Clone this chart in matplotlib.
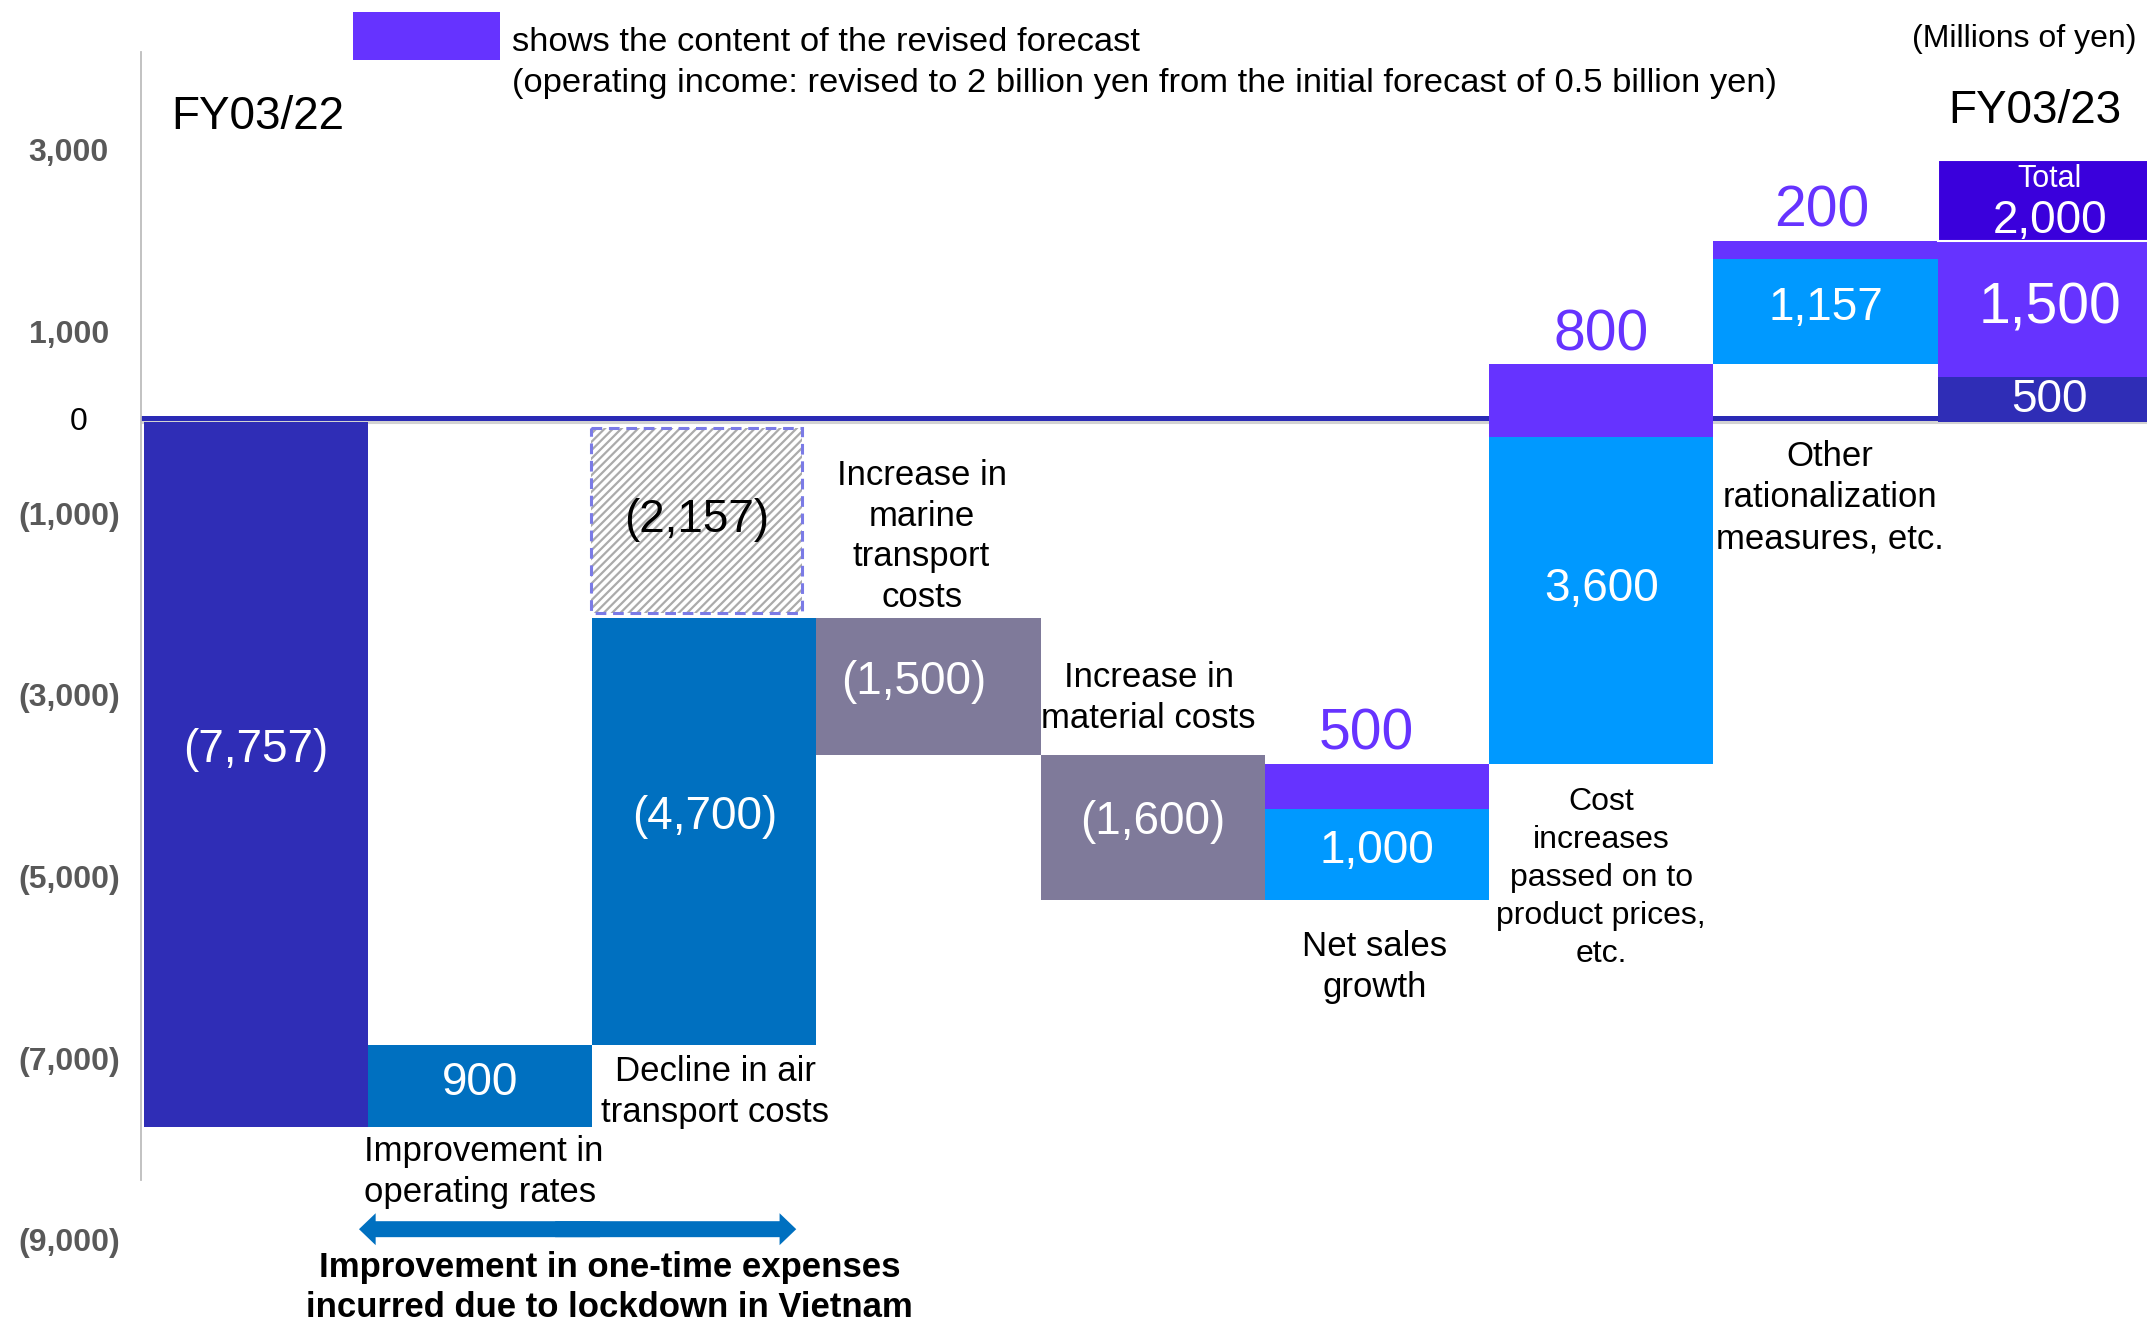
import matplotlib.pyplot as plt
from matplotlib.patches import Rectangle, FancyArrowPatch
from matplotlib.transforms import offset_copy

plt.rcParams['font.family'] = ['Liberation Sans', 'DejaVu Sans']
plt.rcParams['hatch.linewidth'] = 1.6

# Operating income bridge FY03/22 -> FY03/23 (millions of yen)
categories = ['FY03/22',
              'Improvement in\noperating rates',
              'Decline in air\ntransport costs',
              'Increase in\nmarine\ntransport\ncosts',
              'Increase in\nmaterial costs',
              'Net sales\ngrowth',
              'Cost\nincreases\npassed on to\nproduct prices,\netc.',
              'Other\nrationalization\nmeasures, etc.',
              'FY03/23']
start_value = -7757
steps = [900, 4700, -1500, -1600, 1000, 3600, 1157]
# cost items are quoted in brackets whatever their direction
bracketed = [False, True, True, True, False, False, False]
revisions = [0, 0, 0, 0, 500, 800, 200]
end_initial = 500
end_revision = 1500
end_total = 2000
remaining_gap = 2157   # still open after the air transport decline

yticks = [-9000, -7000, -5000, -3000, -1000, 1000, 3000]
ytick_labels = ['(9,000)', '(7,000)', '(5,000)', '(3,000)', '(1,000)',
                '1,000', '3,000']

legend_note = ['shows the content of the revised forecast',
               '(operating income: revised to 2 billion yen from the '
               'initial forecast of 0.5 billion yen)']
unit_note = '(Millions of yen)'
bracket_note = ('Improvement in one-time expenses\n'
                'incurred due to lockdown in Vietnam')

DARK = '#2F2DB6'
IMPROVE = '#0070C0'
COST = '#7F7A9A'
GAIN = '#0099FF'
REVISED = '#6633FF'
TOTAL = '#3A00DC'
step_colors = [IMPROVE, IMPROVE, COST, COST, GAIN, GAIN, GAIN]

# small horizontal nudges (points) for a few number labels
value_dx = {3: -11}
revision_dx = {5: -8, 7: -3}


def fmt(v, brackets=None):
    s = f'{abs(v):,}'
    if brackets is None:
        brackets = v < 0
    return f'({s})' if brackets else s


def value_y(lo, height):
    # labels sit a little above the middle of tall bars
    return lo + abs(height) / 2 + 0.035 * abs(height)


fig = plt.figure(figsize=(21.47, 13.25), dpi=100)
left = 103 / 1568
ax = fig.add_axes([left, 0, 1 - left, 1])
ax.set_xlim(-0.512, 8.434)
ax.set_ylim(-9938, 4651)
for s in ax.spines.values():
    s.set_visible(False)
ax.set_xticks([])

# y axis: ticks and a short grey spine
ax.set_yticks(yticks, ytick_labels)
ax.tick_params(axis='y', length=0, pad=52)
for lab in ax.get_yticklabels():
    lab.set_ha('center')
    lab.set_fontsize(23)
    lab.set_fontweight('bold')
    lab.set_color('#595959')
ax.annotate('0', (0, 0), xycoords=('axes fraction', 'data'),
            xytext=(-45, 0), textcoords='offset points', ha='center',
            va='center', fontsize=23, color='black')
ax.plot([-0.512, -0.512], [-8340, 4080], color='#BDBDBD', lw=1.3,
        clip_on=False, zorder=1)

# zero line: grey underneath, blue on top
ax.plot([-0.512, 8.434], [0, 0], color='#D2D2D2', lw=2.2, zorder=0.5)
ax.plot([-0.512, 8.434], [0, 0], color='#2A2AB5', lw=3.6, zorder=0.6,
        transform=offset_copy(ax.transData, fig=fig, y=2.9, units='points'))

val_kw = dict(ha='center', va='center', color='white', fontsize=33,
              textcoords='offset points', zorder=5)
rev_kw = dict(ha='center', va='baseline', color=REVISED, fontsize=41,
              textcoords='offset points', zorder=5)

# starting bar
ax.bar(0, start_value, width=1, color=DARK, zorder=2)
ax.annotate(fmt(start_value), (0, value_y(start_value, start_value)),
            xytext=(0, 0), **val_kw)

running = start_value
tops, bottoms = [start_value], [start_value]
for i, (d, r) in enumerate(zip(steps, revisions), start=1):
    ax.bar(i, d, bottom=running, width=1, color=step_colors[i - 1], zorder=2)
    lo, hi = min(running, running + d), max(running, running + d)
    ax.annotate(fmt(d, bracketed[i - 1]), (i, value_y(lo, d)),
                xytext=(value_dx.get(i, 0), 0), **val_kw)
    running += d
    if r:
        ax.bar(i, r, bottom=running, width=1, color=REVISED, zorder=3)
        ax.annotate(fmt(r), (i, running + r),
                    xytext=(revision_dx.get(i, 0), 10), **rev_kw)
        running += r
        hi = running
    bottoms.append(lo)
    tops.append(hi)

# ending bar: initial forecast + revision, total box on top
n = len(categories) - 1
ax.bar(n, end_initial, width=1, color=DARK, zorder=2)
ax.text(n, end_initial / 2, fmt(end_initial), ha='center', va='center',
        color='white', fontsize=33, zorder=5)
ax.bar(n, end_revision, bottom=end_initial, width=1, color=REVISED, zorder=2)
ax.text(n, end_initial + end_revision / 2, fmt(end_revision),
        ha='center', va='center', color='white', fontsize=41, zorder=5)
box_h = 890
ax.add_patch(Rectangle((n - 0.5, end_total), 1, box_h, facecolor=TOTAL,
                       edgecolor='white', lw=1.5, zorder=3))
ax.text(n, end_total + 0.77 * box_h, 'Total', ha='center', va='center',
        color='white', fontsize=22, zorder=5)
ax.text(n, end_total + 0.25 * box_h, fmt(end_total), ha='center',
        va='center', color='white', fontsize=33, zorder=5)

# hatched placeholder for the part not yet recovered
gx, gw, inset = 2 - 0.035, 0.94, 60
ax.bar(gx, -remaining_gap + 2 * inset, bottom=-inset, width=gw,
       facecolor='white', edgecolor='#ABABAB', hatch='////', lw=0,
       zorder=2)
ax.bar(gx, -remaining_gap + 2 * inset, bottom=-inset, width=gw, fill=False,
       edgecolor='#7B7BE6', lw=2.2, ls=(0, (3.5, 2.2)), zorder=3)
ax.text(gx, -remaining_gap / 2, fmt(-remaining_gap), ha='center',
        va='center', color='black', fontsize=33, zorder=5)

# category captions: (side, ha, dx, dy, size, linespacing)
caption_style = {
    1: ('below', 'left', -3, -6, 25, 1.3),
    2: ('below', 'center', 8, -7, 25, 1.3),
    3: ('above', 'center', -5, 3, 25, 1.3),
    4: ('above', 'center', -3, 14, 25, 1.3),
    5: ('below', 'center', -2, -22, 25, 1.3),
    6: ('below', 'center', 0, -17, 23, 1.35),
    7: ('below', 'center', 3, -13, 25, 1.3),
}
for i, (side, ha, dx, dy, size, ls) in caption_style.items():
    if side == 'below':
        anchor, va = min(bottoms[i], 0), 'top'
    else:
        anchor, va = tops[i], 'bottom'
    x = i - 0.5 if ha == 'left' else i
    ax.annotate(categories[i], (x, anchor), xytext=(dx, dy),
                textcoords='offset points', ha=ha, va=va, fontsize=size,
                multialignment='left' if ha == 'left' else 'center',
                linespacing=ls, zorder=5)

# bracket arrow under the two lockdown-related improvements
ay = -8883
x0, x1 = 1 - 0.54, 2 + 0.41
xm = (x0 + x1) / 2
for xs, xe in ((xm + 0.1, x0), (xm - 0.1, x1)):
    ax.add_patch(FancyArrowPatch(
        (xs, ay), (xe, ay),
        arrowstyle='simple,head_length=12,head_width=23,tail_width=11.5',
        mutation_scale=1, color=IMPROVE, lw=0, shrinkA=0, shrinkB=0,
        clip_on=False, zorder=4))
fig.text(445 / 1568, 1 - 962 / 968, bracket_note, ha='center',
         va='baseline', fontsize=25, fontweight='bold', linespacing=1.27)

# header texts
fig.patches.append(Rectangle((258 / 1568, 1 - 44 / 968), 107 / 1568,
                             35 / 968, transform=fig.transFigure,
                             facecolor=REVISED, edgecolor='none'))
fig.text(374 / 1568, 1 - 37 / 968, legend_note[0], ha='left',
         va='baseline', fontsize=24.8)
fig.text(374 / 1568, 1 - 67 / 968, legend_note[1], ha='left',
         va='baseline', fontsize=24.8)
fig.text(1560 / 1568, 1 - 34 / 968, unit_note, ha='right', va='baseline',
         fontsize=23)
fig.text(125 / 1568, 1 - 94 / 968, categories[0], ha='left', va='baseline',
         fontsize=33)
fig.text(1423 / 1568, 1 - 90 / 968, categories[-1], ha='left',
         va='baseline', fontsize=33)

fig.savefig('out.png', dpi=100)
